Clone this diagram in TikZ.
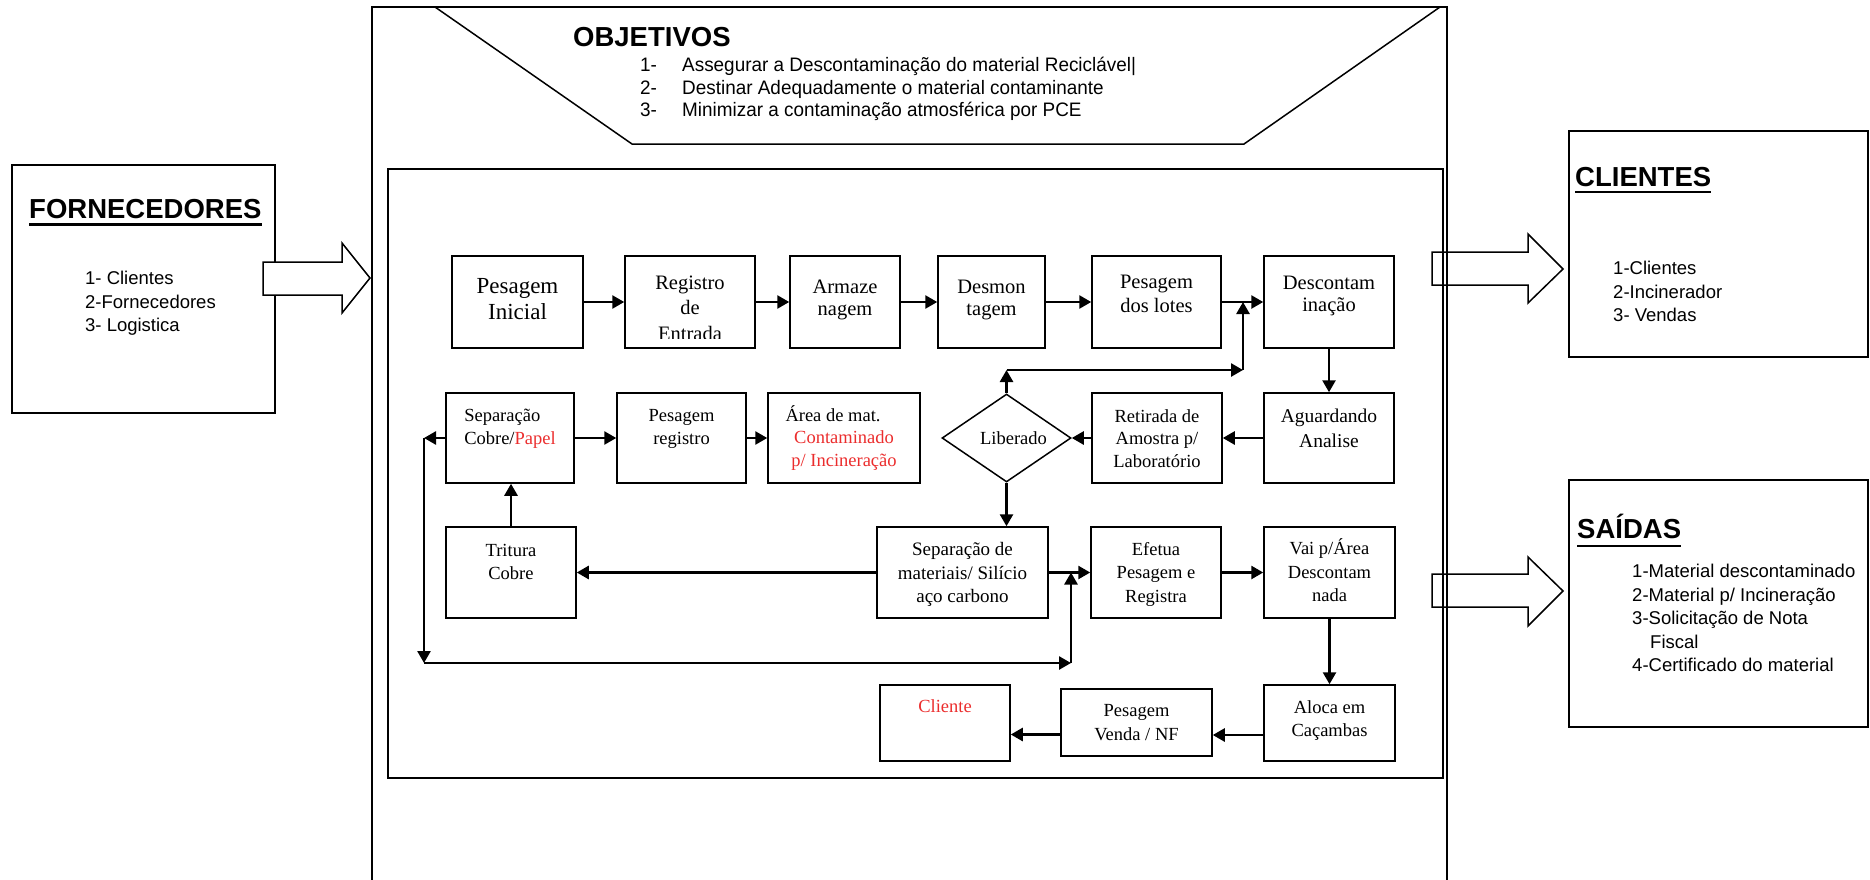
\documentclass[tikz,border=0pt]{standalone}
\usepackage{fontspec}
\setmainfont{Liberation Serif}
\newfontfamily\arialfont{Liberation Sans}
\newfontfamily\objfont[FakeStretch=0.97]{Liberation Sans}
\usetikzlibrary{arrows.meta,shapes.geometric}
\definecolor{redtxt}{RGB}{235,45,45}
\tikzset{
  box/.style={
    draw,
    line width=1.5pt,
    inner sep=0pt
  },
  boxtxt/.style={
    anchor=north,
    align=center,
    inner sep=0pt,
    font=\fontsize{18.5}{23}\selectfont
  },
  toptxt/.style={
    boxtxt,
    font=\fontsize{20.5}{25.5}\selectfont
  },
  arr/.style={
    line width=2.6pt,
    -{Triangle[length=12pt,width=13pt]}
  },
  bigarrow/.style={
    draw,
    line width=1.5pt,
    fill=white,
    line join=miter
  },
  headtxt/.style={
    anchor=base west,
    inner sep=0pt,
    font=\arialfont\bfseries\fontsize{27.5}{33}\selectfont
  },
  listtxt/.style={
    anchor=north west,
    align=left,
    inner sep=0pt,
    font=\arialfont\fontsize{18.5}{23.5}\selectfont
  },
  uline/.style={
    line width=2.6pt
  }
}

\begin{document}
\begin{tikzpicture}[x=1pt,y=-1pt]
  \useasboundingbox (0,0) rectangle (1870,880);

  % arrows towards the right hand boxes
  \draw[bigarrow] (1432,252) -- (1528,252) -- (1528,234) -- (1563,269) -- (1528,303) -- (1528,285) -- (1432,285) -- cycle;
  \draw[bigarrow] (1432,574) -- (1528,574) -- (1528,557) -- (1563,591) -- (1528,626) -- (1528,607) -- (1432,607) -- cycle;

  \draw[line width=1.5pt] (372,885) -- (372,7) -- (1447,7) -- (1447,885);
  \draw[line width=1.5pt, line join=miter] (435,7) -- (632,144) -- (1244,144) -- (1440,7);
  \draw[line width=1.5pt] (388,169) rectangle (1443,778);

  \node[headtxt] (objT) at (573,47) {OBJETIVOS};
  \node[listtxt, font=\objfont\fontsize{19.5}{22.5}\selectfont] (objL) at (640,57)
    {\makebox[42pt][l]{1-}Assegurar a Descontaminação do material Reciclável|\\
     \makebox[42pt][l]{2-}Destinar Adequadamente o material contaminante\\
     \makebox[42pt][l]{3-}Minimizar a contaminação atmosférica por PCE};

  % fornecedores
  \node[box, minimum width=263, minimum height=248] (fornBox) at (143.5,289) {};
  \draw[bigarrow] (263,262) -- (342,262) -- (342,243) -- (370,278) -- (342,313) -- (342,295) -- (263,295) -- cycle;
  \node[headtxt] (fornT) at (29,218) {FORNECEDORES};
  \draw[uline] ([yshift=-6.5pt]fornT.base west) -- ([yshift=-6.5pt]fornT.base east);
  \node[listtxt] (fornL) at (85,271) {1- Clientes\\2-Fornecedores\\3- Logistica};

  % clientes e saidas
  \node[box, minimum width=299, minimum height=226] (cliBox) at (1718.5,244) {};
  \node[headtxt] (cliT) at (1575,186) {CLIENTES};
  \draw[uline] ([yshift=-6pt]cliT.base west) -- ([yshift=-6pt]cliT.base east);
  \node[listtxt] (cliL) at (1613,261) {1-Clientes\\2-Incinerador\\3- Vendas};

  \node[box, minimum width=299, minimum height=247] (saiBox) at (1718.5,603.5) {};
  \node[headtxt] (saiT) at (1577,538) {SAÍDAS};
  \draw[uline] ([yshift=-8pt]saiT.base west) -- ([yshift=-8pt]saiT.base east);
  \node[listtxt] (saiL) at (1632,564)
    {1-Material descontaminado\\2-Material p/ Incineração\\3-Solicitação de Nota\\\hspace*{18pt}Fiscal\\4-Certificado do material};

  % fluxo
  \node[box, minimum width=131, minimum height=92,
    label={[boxtxt, font=\fontsize{23}{26}\selectfont, yshift=-23pt]north:{Pesagem\\Inicial}}] (pesIni) at (517.5,302) {};
  \node[box, minimum width=130, minimum height=92] (regEnt) at (690,302) {};
  \begin{scope}
    \clip (regEnt.north west) rectangle ([yshift=10pt]regEnt.south east);
    \node[toptxt] (regEntTxt) at ([yshift=-20pt]regEnt.north) {Registro\\de\\Entrada};
  \end{scope}
  \node[box, minimum width=110, minimum height=92,
    label={[toptxt, font=\fontsize{20.5}{22}\selectfont, yshift=-25pt]north:{Armaze\\nagem}}] (armaz) at (845,302) {};
  \node[box, minimum width=107, minimum height=92,
    label={[toptxt, font=\fontsize{20.5}{22}\selectfont, yshift=-25pt]north:{Desmon\\tagem}}] (desmon) at (991.5,302) {};
  \node[box, minimum width=129, minimum height=92,
    label={[toptxt, font=\fontsize{20.5}{24}\selectfont, yshift=-20pt]north:{Pesagem\\dos lotes}}] (pesLotes) at (1156.5,302) {};
  \node[box, minimum width=130, minimum height=92,
    label={[toptxt, font=\fontsize{20.5}{21.5}\selectfont, yshift=-21pt]north:{Descontam\\inação}}] (descont) at (1329,302) {};

  \node[box, minimum width=128, minimum height=90,
    label={[boxtxt, align=left, yshift=-17pt]north:{Separação\\Cobre/\textcolor{redtxt}{Papel}}}] (sepCobre) at (510,438) {};
  \node[box, minimum width=129, minimum height=90,
    label={[boxtxt, yshift=-17pt]north:{Pesagem\\registro}}] (pesReg) at (681.5,438) {};
  \node[box, minimum width=152, minimum height=90,
    label={[boxtxt, font=\fontsize{18.5}{22.5}\selectfont, yshift=-13pt]north:{Área de mat.\hspace*{22pt}\\\textcolor{redtxt}{Contaminado}\\\textcolor{redtxt}{p/ Incineração}}}] (areaMat) at (844,438) {};
  \node[box, diamond, shape aspect=1.5, minimum width=129, minimum height=88,
    font=\fontsize{18.5}{23}\selectfont] (liberado) at (1006.5,438) {\hspace*{14pt}Liberado};
  \node[box, minimum width=130, minimum height=90,
    label={[boxtxt, font=\fontsize{18.5}{22.5}\selectfont, yshift=-17pt]north:{Retirada de\\Amostra p/\\Laboratório}}] (retirada) at (1157,438) {};
  \node[box, minimum width=130, minimum height=90,
    label={[boxtxt, font=\fontsize{19.5}{25}\selectfont, yshift=-17pt]north:{Aguardando\\Analise}}] (aguard) at (1329,438) {};

  \node[box, minimum width=130, minimum height=91,
    label={[boxtxt, yshift=-18pt]north:{Tritura\\Cobre}}] (tritura) at (511,572.5) {};
  \node[box, minimum width=171, minimum height=91,
    label={[boxtxt, font=\fontsize{19}{23.5}\selectfont, yshift=-16pt]north:{Separação de\\materiais/ Silício\\aço carbono}}] (sepMat) at (962.5,572.5) {};
  \node[box, minimum width=130, minimum height=91,
    label={[boxtxt, font=\fontsize{18.5}{23.5}\selectfont, yshift=-16pt]north:{Efetua\\Pesagem e\\Registra}}] (efetua) at (1156,572.5) {};
  \node[box, minimum width=131, minimum height=91,
    label={[boxtxt, font=\fontsize{18.5}{23.5}\selectfont, yshift=-12.5pt]north:{Vai p/Área\\Descontam\\nada}}] (vaiArea) at (1329.5,572.5) {};

  \node[box, minimum width=130, minimum height=76,
    label={[boxtxt, yshift=-15pt]north:{\textcolor{redtxt}{Cliente}}}] (cliente) at (945,723) {};
  \node[box, minimum width=151, minimum height=67,
    label={[boxtxt, font=\fontsize{18.5}{24}\selectfont, yshift=-16pt]north:{Pesagem\\Venda / NF}}] (pesVenda) at (1136.5,722.5) {};
  \node[box, minimum width=131, minimum height=76,
    label={[boxtxt, yshift=-16pt]north:{Aloca em\\Caçambas}}] (aloca) at (1329.5,723) {};

  \draw[arr] (pesIni) -- (regEnt);
  \draw[arr] (regEnt) -- (armaz);
  \draw[arr] (armaz) -- (desmon);
  \draw[arr] (desmon) -- (pesLotes);
  \draw[arr] (pesLotes) -- (descont);
  \draw[arr] (descont) -- (aguard);
  \draw[arr] (aguard) -- (retirada);
  \draw[arr] (retirada) -- (liberado);
  \draw[arr] (liberado.south) -- (liberado.south |- sepMat.north);
  \draw[arr] (sepMat) -- (tritura);
  \draw[arr] (tritura.north) -- (tritura.north |- sepCobre.south);
  \draw[arr] (sepCobre) -- (pesReg);
  \draw[arr] (pesReg) -- (areaMat);
  \draw[arr] (sepMat) -- (efetua);
  \draw[arr] (efetua) -- (vaiArea);
  \draw[arr] (vaiArea) -- (aloca);
  \draw[arr] ([yshift=-12pt]aloca.west) -- ([yshift=-12pt]aloca.west -| pesVenda.east);
  \draw[arr] ([yshift=-12pt]pesVenda.west) -- ([yshift=-12pt]pesVenda.west -| cliente.east);

  % retornos
  \coordinate (backA) at (1006.5,370);
  \coordinate (backB) at (1243,370);
  \draw[arr] (liberado.north) -- (backA);
  \draw[arr] (backA) -- (backB);
  \draw[arr] (backB) -- (backB |- descont.west);

  \coordinate (loopA) at (424,438);
  \coordinate (loopB) at (424,663);
  \coordinate (loopC) at (1071,663);
  \draw[arr] (sepCobre.west) -- (loopA);
  \draw[arr] (loopA) -- (loopB);
  \draw[arr] (loopB) -- (loopC);
  \draw[arr] (loopC) -- (loopC |- sepMat.east);
\end{tikzpicture}
\end{document}
